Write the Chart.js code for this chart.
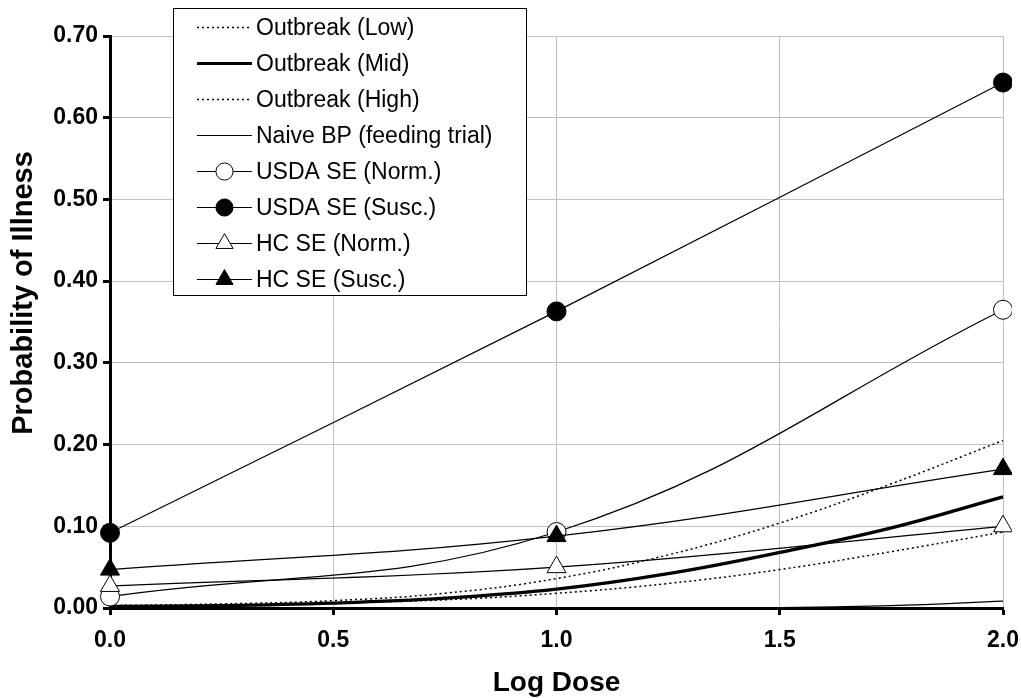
<!DOCTYPE html>
<html><head><meta charset="utf-8">
<script src="https://cdn.jsdelivr.net/npm/chart.js@4/dist/chart.umd.min.js"></script>
<style>html,body{margin:0;padding:0;background:#fff}#wrap{width:1021px;height:698px}</style>
</head><body><div id="wrap"><canvas id="c" width="1021" height="698"></canvas></div>
<script>
// ---- data ----
const xTickValues = [0, 0.5, 1.0, 1.5, 2.0];
const yTickValues = [0, 0.1, 0.2, 0.3, 0.4, 0.5, 0.6, 0.7];
const xAxisTitle = 'Log Dose';
const yAxisTitle = 'Probability of Illness';
const seriesLabels = ['Outbreak (Low)', 'Outbreak (Mid)', 'Outbreak (High)', 'Naive BP (feeding trial)',
  'USDA SE (Norm.)', 'USDA SE (Susc.)', 'HC SE (Norm.)', 'HC SE (Susc.)'];
const outbreakDoses = [0, 0.25, 0.5, 0.75, 1.0, 1.25, 1.5, 1.75, 2.0, 2.02];
const outbreakLow  = [0.002, 0.003, 0.006, 0.010, 0.018, 0.030, 0.047, 0.069, 0.093, 0.095];
const outbreakMid  = [0.002, 0.003, 0.006, 0.012, 0.023, 0.042, 0.068, 0.098, 0.136, 0.139];
const outbreakHigh = [0.003, 0.005, 0.009, 0.018, 0.036, 0.065, 0.104, 0.152, 0.205, 0.209];
const naiveDoses = [0, 0.5, 1.0, 1.5, 1.75, 2.0, 2.02];
const naiveBP    = [0, 0, 0, 0.0005, 0.003, 0.0085, 0.009];
const markerDoses = [0, 1.0, 2.0, 2.02];
const markerShown = [true, true, true, false];
const usdaNorm = [0.014, 0.093, 0.365, 0.371];
const usdaSusc = [0.092, 0.363, 0.643, 0.647];
const hcNorm   = [0.027, 0.050, 0.100, 0.101];
const hcSusc   = [0.047, 0.088, 0.170, 0.171];

const pts = (xs, ys) => xs.map((x, i) => ({x: x, y: ys[i]}));
const radii = r => markerShown.map(s => (s ? r : 0));
const FONT = "'Liberation Sans', Arial, sans-serif";
const CLIP = {left: 12, top: 12, right: 9, bottom: 12};

const base = {fill: false, borderColor: '#000', tension: 0.4, pointRadius: 0, borderWidth: 1.2, clip: CLIP};
const datasets = [
  Object.assign({}, base, {label: seriesLabels[0], order: 6, data: pts(outbreakDoses, outbreakLow), borderDash: [2, 3], borderWidth: 1.5}),
  Object.assign({}, base, {label: seriesLabels[1], order: 5, data: pts(outbreakDoses, outbreakMid), borderWidth: 3.2}),
  Object.assign({}, base, {label: seriesLabels[2], order: 7, data: pts(outbreakDoses, outbreakHigh), borderDash: [2, 3], borderWidth: 1.5}),
  Object.assign({}, base, {label: seriesLabels[3], order: 4, data: pts(naiveDoses, naiveBP)}),
  Object.assign({}, base, {label: seriesLabels[4], order: 3, data: pts(markerDoses, usdaNorm), pointStyle: 'circle', pointRadius: radii(9.5), legendRadius: 9.5, pointBackgroundColor: '#fff', pointBorderColor: '#000', pointBorderWidth: 1}),
  Object.assign({}, base, {label: seriesLabels[5], order: 2, data: pts(markerDoses, usdaSusc), pointStyle: 'circle', pointRadius: radii(9.5), legendRadius: 9.5, pointBackgroundColor: '#000', pointBorderColor: '#000', pointBorderWidth: 1}),
  Object.assign({}, base, {label: seriesLabels[6], order: 1, data: pts(markerDoses, hcNorm), pointStyle: 'triangle', pointRadius: radii(11), legendRadius: 11, pointBackgroundColor: '#fff', pointBorderColor: '#000', pointBorderWidth: 1}),
  Object.assign({}, base, {label: seriesLabels[7], order: 0, data: pts(markerDoses, hcSusc), pointStyle: 'triangle', pointRadius: radii(11), legendRadius: 11, pointBackgroundColor: '#000', pointBorderColor: '#000', pointBorderWidth: 1})
];

const boxLegend = {
  id: 'boxLegend',
  afterDraw(chart) {
    const ctx = chart.ctx;
    // y axis title
    ctx.save();
    ctx.translate(24, 293);
    ctx.rotate(-Math.PI / 2);
    ctx.font = 'bold 29px ' + FONT;
    ctx.fillStyle = '#000';
    ctx.textAlign = 'center';
    ctx.textBaseline = 'middle';
    ctx.fillText(yAxisTitle, 0, 0);
    ctx.restore();
    // legend
    const L = 173.5, T = 8.5, R = 526.5, B = 295.5;
    ctx.save();
    ctx.fillStyle = '#fff';
    ctx.fillRect(L, T, R - L, B - T);
    ctx.strokeStyle = '#000';
    ctx.lineWidth = 1;
    ctx.strokeRect(L, T, R - L, B - T);
    ctx.font = '23px ' + FONT;
    ctx.textBaseline = 'middle';
    ctx.textAlign = 'left';
    chart.data.datasets.forEach((ds, i) => {
      const y = Math.round(T + 18 + i * 36.1) + 0.5;
      ctx.beginPath();
      ctx.setLineDash(ds.borderDash || []);
      ctx.lineWidth = ds.borderWidth;
      ctx.strokeStyle = '#000';
      ctx.moveTo(197, y);
      ctx.lineTo(252, y);
      ctx.stroke();
      ctx.setLineDash([]);
      if (ds.legendRadius) {
        ctx.fillStyle = ds.pointBackgroundColor;
        ctx.strokeStyle = '#000';
        ctx.lineWidth = 1;
        Chart.helpers.drawPoint(ctx, {pointStyle: ds.pointStyle, radius: ds.legendRadius * 0.9, rotation: 0, borderWidth: 1}, 224.5, y);
      }
      ctx.fillStyle = '#000';
      ctx.fillText(ds.label, 256, y + 1);
    });
    ctx.restore();
  }
};

new Chart(document.getElementById('c'), {
  type: 'line',
  data: {datasets: datasets},
  plugins: [boxLegend],
  options: {
    responsive: false,
    animation: false,
    devicePixelRatio: 1,
    layout: {padding: {top: 36, right: 18, left: 0, bottom: 0}},
    plugins: {legend: {display: false}, tooltip: {enabled: false}},
    scales: {
      x: {
        type: 'linear', min: 0, max: 2.0,
        afterBuildTicks: s => { s.ticks = xTickValues.map(v => ({value: v})); },
        afterFit: s => { s.height = 90; s.paddingRight = 0; s.paddingLeft = 0; },
        ticks: {callback: v => Number(v).toFixed(1), color: '#000', font: {family: FONT, weight: 'bold', size: 23}, padding: 12, maxRotation: 0},
        grid: {color: '#c0c0c0', lineWidth: 1, tickColor: '#000', tickLength: 7, tickWidth: 3},
        border: {color: '#000', width: 3},
        title: {display: true, text: xAxisTitle, color: '#000', font: {family: FONT, weight: 'bold', size: 28}, padding: {top: 0, bottom: -2}}
      },
      y: {
        type: 'linear', min: 0, max: 0.7,
        afterBuildTicks: s => { s.ticks = yTickValues.map(v => ({value: v})); },
        afterFit: s => { s.width = 110; s.paddingTop = 0; s.paddingBottom = 0; },
        ticks: {callback: v => Number(v).toFixed(2), color: '#000', font: {family: FONT, weight: 'bold', size: 23}, padding: 5},
        grid: {color: '#c0c0c0', lineWidth: 1, tickColor: '#000', tickLength: 7, tickWidth: 3},
        border: {color: '#000', width: 3}
      }
    }
  }
});
</script>
</body></html>
